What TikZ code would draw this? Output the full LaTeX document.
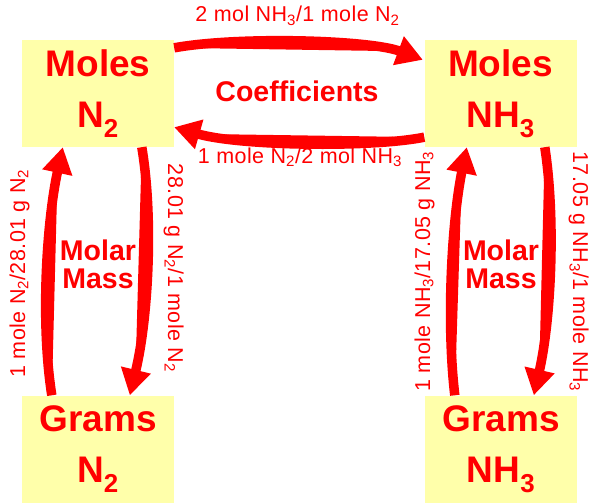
\documentclass[tikz,border=0pt]{standalone}
\usepackage{fontspec}
\setmainfont{Liberation Sans}
\newfontfamily\lblfont[LetterSpace=2]{Liberation Sans}
\usetikzlibrary{arrows.meta,calc}
\definecolor{boxyellow}{RGB}{255,255,170}
\definecolor{ared}{RGB}{255,0,0}
\begin{document}
\begin{tikzpicture}[x=1pt,y=-1pt,
  box/.style={fill=boxyellow, minimum width=152pt, minimum height=107pt, inner sep=0pt,
    align=center, text=ared, font=\bfseries\fontsize{37pt}{51pt}\selectfont},
  bigarrow/.style={draw=ared, line width=9.5pt, -{Triangle[length=26pt,width=29pt]}, fill=ared},
  lbl/.style={text=ared, inner sep=0pt, font=\lblfont\fontsize{21.5pt}{25pt}\selectfont},
  boldlbl/.style={text=ared, inner sep=0pt, align=center, font=\bfseries\fontsize{28.5pt}{28pt}\selectfont}]
\useasboundingbox (0,0) rectangle (600,503);
% boxes
\node[box] (mn2)  at (98,93.5)   {Moles\\N\textsubscript{2}};
\node[box] (mnh3) at (500.5,93.5) {Moles\\NH\textsubscript{3}};
\node[box] (gn2)  at (98,449)    {Grams\\N\textsubscript{2}};
\node[box] (gnh3) at (501,449)   {Grams\\NH\textsubscript{3}};
% coefficient arrows
\draw[bigarrow] ($(mn2.north east)+(0,8)$) .. controls (240,36) and (370,40) .. ($(mnh3.north west)+(-1.5,20)$);
\draw[bigarrow] ($(mnh3.south west)+(0,-10)$) .. controls (370,148) and (240,146) .. ($(mn2.south east)+(0,-20)$);
% molar mass arrows, N2
\draw[bigarrow] ($(gn2.north west)+(30,0)$) .. controls (40,320) and (47,220) .. ($(mn2.south west)+(41,0)$);
\draw[bigarrow] ($(mn2.south west)+(120,0)$) .. controls (154,220) and (148,320) .. ($(gn2.north west)+(108,0)$);
% molar mass arrows, NH3
\draw[bigarrow] ($(gnh3.north west)+(30,0)$) .. controls (446,320) and (452,220) .. ($(mnh3.south west)+(42.5,0)$);
\draw[bigarrow] ($(mnh3.south west)+(120.5,0)$) .. controls (556,220) and (551,320) .. ($(gnh3.north west)+(109,0)$);
% labels
\node[lbl, anchor=base] (ltop) at (297.5,22) {2 mol NH\textsubscript{3}/1 mole N\textsubscript{2}};
\node[lbl, anchor=base] (lbot) at (300,163) {1 mole N\textsubscript{2}/2 mol NH\textsubscript{3}};
\node[boldlbl, anchor=base] (coef) at (297,102) {Coefficients};
\node[lbl, anchor=base, rotate=90] (l1) at (25,273.5) {1 mole N\textsubscript{2}/28.01 g N\textsubscript{2}};
\node[lbl, anchor=base, rotate=-90] (l2) at (168,268) {28.01 g N\textsubscript{2}/1 mole N\textsubscript{2}};
\node[lbl, anchor=base, rotate=90] (l3) at (430,271.5) {1 mole NH\textsubscript{3}/17.05 g NH\textsubscript{3}};
\node[lbl, anchor=base, rotate=-90] (l4) at (573,271.5) {17.05 g NH\textsubscript{3}/1 mole NH\textsubscript{3}};
\node[boldlbl] (mm1) at (98,264) {Molar\\Mass};
\node[boldlbl] (mm2) at (501,264) {Molar\\Mass};
\end{tikzpicture}
\end{document}
